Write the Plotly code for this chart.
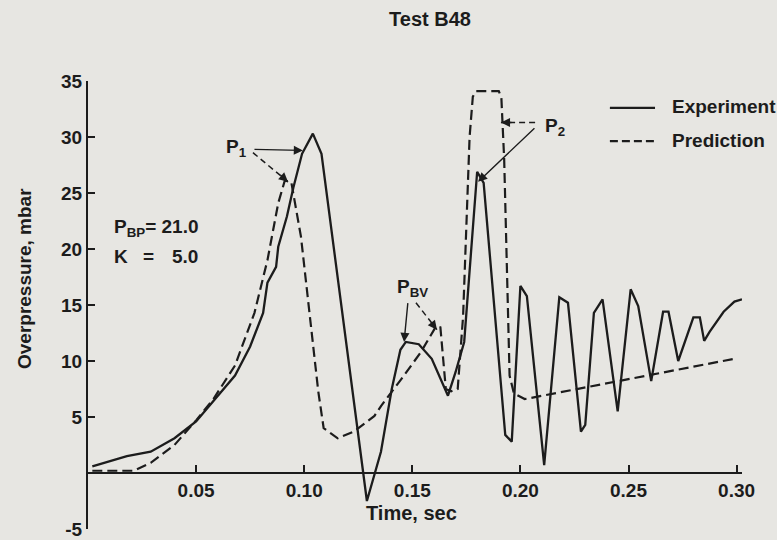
import plotly.graph_objects as go

# ---------------- data ----------------
exp_t = [0.002, 0.018, 0.029, 0.040, 0.050, 0.058, 0.068, 0.075, 0.081, 0.083,
         0.087, 0.088, 0.092, 0.095, 0.099, 0.104, 0.108, 0.129, 0.133, 0.1355,
         0.1405, 0.1445, 0.147, 0.153, 0.159, 0.1665, 0.170, 0.172, 0.174, 0.180,
         0.183, 0.193, 0.196, 0.200, 0.203, 0.211, 0.218, 0.222, 0.228, 0.230,
         0.234, 0.238, 0.245, 0.251, 0.2545, 0.2605, 0.266, 0.2685, 0.273, 0.280,
         0.283, 0.285, 0.2875, 0.294, 0.299, 0.3025]
exp_p = [0.6, 1.5, 1.9, 3.1, 4.6, 6.4, 8.7, 11.3, 14.3, 17.0,
         18.4, 20.2, 22.9, 25.5, 28.5, 30.3, 28.5, -2.5, 0.2, 1.9,
         7.5, 11.0, 11.7, 11.5, 10.2, 6.9, 9.0, 10.4, 11.7, 26.9,
         25.9, 3.4, 2.8, 16.7, 15.8, 0.7, 15.7, 15.2, 3.7, 4.3,
         14.3, 15.5, 5.5, 16.4, 14.9, 8.2, 14.4, 14.4, 10.0, 13.9,
         13.9, 11.8, 12.6, 14.4, 15.3, 15.5]

pred_t = [0.002, 0.021, 0.029, 0.040, 0.050, 0.058, 0.068, 0.077, 0.083, 0.088,
          0.091, 0.094, 0.0985, 0.103, 0.1065, 0.109, 0.1155, 0.123, 0.1325, 0.1356,
          0.1417, 0.145, 0.154, 0.161, 0.163, 0.1655, 0.168, 0.171, 0.1735, 0.1765,
          0.178, 0.1795, 0.190, 0.1912, 0.1925, 0.195, 0.197, 0.202, 0.299]
pred_p = [0.2, 0.2, 0.9, 2.5, 4.7, 6.6, 9.6, 14.3, 19.0, 24.1,
          26.1, 26.0, 21.1, 13.1, 7.3, 4.0, 3.1, 3.7, 5.1, 6.0,
          7.5, 8.4, 10.8, 13.1, 13.0, 7.5, 7.3, 7.5, 14.0, 30.0,
          33.6, 34.1, 34.1, 33.5, 28.0, 8.7, 7.1, 6.6, 10.2]

x_ticks = [0.05, 0.10, 0.15, 0.20, 0.25, 0.30]
x_tick_labels = ["0.05", "0.10", "0.15", "0.20", "0.25", "0.30"]
y_ticks = [-5, 5, 10, 15, 20, 25, 30, 35]
y_tick_labels = ["-5", "5", "10", "15", "20", "25", "30", "35"]

# ---------------- style ----------------
INK = "#1c1c1c"
BG = "#e7e6e2"
FAM = "Liberation Sans, Arial, Helvetica, sans-serif"
FS = 19


def f(size=FS):
    return dict(family=FAM, size=size, color=INK, weight="bold")


fig = go.Figure()
fig.add_trace(go.Scatter(x=exp_t, y=exp_p, mode="lines", name="Experiment",
                         line=dict(color=INK, width=2.3), showlegend=False))
fig.add_trace(go.Scatter(x=pred_t, y=pred_p, mode="lines", name="Prediction",
                         line=dict(color=INK, width=2.2, dash="10px,5px"),
                         showlegend=False))

annotations = []
shapes = []

# text labels
annotations += [
    dict(x=0.0689, y=29.0, text="P<sub>1</sub>", showarrow=False, font=f(),
         xanchor="center", yanchor="middle"),
    dict(x=0.1503, y=16.5, text="P<sub>BV</sub>", showarrow=False, font=f(),
         xanchor="center", yanchor="middle"),
    dict(x=0.216, y=30.9, text="P<sub>2</sub>", showarrow=False, font=f(),
         xanchor="center", yanchor="middle"),
    dict(x=0.0111, y=21.9, text="P<sub>BP</sub>= 21.0", showarrow=False, font=f(),
         xanchor="left", yanchor="middle"),
    dict(x=0.0111, y=19.3, text="K", showarrow=False, font=f(),
         xanchor="left", yanchor="middle"),
    dict(x=0.0278, y=19.3, text="=", showarrow=False, font=f(),
         xanchor="center", yanchor="middle"),
    dict(x=0.0379, y=19.3, text="5.0", showarrow=False, font=f(),
         xanchor="left", yanchor="middle"),
]

# solid arrows (tail -> head)
for tail, head in [((0.0763, 28.9), (0.0994, 28.8)),
                   ((0.1480, 15.3), (0.1462, 11.7)),
                   ((0.2072, 30.9), (0.1804, 26.0))]:
    annotations.append(dict(x=head[0], y=head[1], ax=tail[0], ay=tail[1],
                            xref="x", yref="y", axref="x", ayref="y", text="",
                            showarrow=True, arrowhead=2, arrowsize=1.3,
                            arrowwidth=1.4, arrowcolor=INK))

# dashed arrows: dashed shaft + short arrowhead
for tail, head, off in [((0.0763, 28.6), (0.0925, 26.0), (-9, -8)),
                        ((0.1517, 15.2), (0.1614, 12.8), (-7, -9)),
                        ((0.2068, 31.3), (0.1910, 31.3), (12, 0))]:
    shapes.append(dict(type="line", xref="x", yref="y", x0=tail[0], y0=tail[1],
                       x1=head[0], y1=head[1],
                       line=dict(color=INK, width=1.5, dash="6px,4px")))
    annotations.append(dict(x=head[0], y=head[1], ax=off[0], ay=off[1],
                            xref="x", yref="y", text="", showarrow=True,
                            arrowhead=2, arrowsize=1.3, arrowwidth=1.4,
                            arrowcolor=INK))

# axis titles
annotations += [
    dict(xref="paper", yref="paper", x=-0.098, y=0.560, text="Overpressure, mbar",
         textangle=-90, showarrow=False, font=f(), xanchor="center", yanchor="middle"),
    dict(xref="paper", yref="paper", x=0.494, y=0.036, text="Time, sec",
         showarrow=False, font=f(20), xanchor="center", yanchor="middle"),
]

# legend (drawn manually to match the original layout)
shapes += [
    dict(type="line", xref="paper", yref="paper", x0=0.798, x1=0.867, y0=0.940, y1=0.940,
         line=dict(color=INK, width=2.3)),
    dict(type="line", xref="paper", yref="paper", x0=0.798, x1=0.867, y0=0.866, y1=0.866,
         line=dict(color=INK, width=2.2, dash="8px,4px")),
]
annotations += [
    dict(xref="paper", yref="paper", x=0.890, y=0.942, text="Experiment",
         showarrow=False, font=f(), xanchor="left", yanchor="middle"),
    dict(xref="paper", yref="paper", x=0.890, y=0.868, text="Prediction",
         showarrow=False, font=f(), xanchor="left", yanchor="middle"),
]

fig.update_layout(
    width=777, height=540,
    margin=dict(l=88, r=35, t=81, b=11, autoexpand=False),
    paper_bgcolor=BG, plot_bgcolor=BG,
    title=dict(text="Test B48", x=430 / 777, xref="container", xanchor="center",
               y=1 - 19 / 540, yref="container", yanchor="middle", font=f(20),
               automargin=False),
    showlegend=False,
    annotations=annotations,
    shapes=shapes,
)

fig.update_xaxes(range=[0, 0.3025], showgrid=False, zeroline=False,
                 showline=True, linecolor=INK, linewidth=2.2,
                 anchor="free", position=0.125, automargin=False,
                 tickmode="array", tickvals=x_ticks, ticktext=x_tick_labels,
                 ticks="inside", ticklen=7, tickwidth=2, tickcolor=INK,
                 tickfont=f())
fig.update_yaxes(range=[-5, 35], showgrid=False, zeroline=False,
                 showline=True, linecolor=INK, linewidth=2.2, automargin=False,
                 tickmode="array", tickvals=y_ticks, ticktext=y_tick_labels,
                 ticks="inside", ticklen=7, tickwidth=2, tickcolor=INK,
                 tickfont=f())

fig.write_html("out.html")
